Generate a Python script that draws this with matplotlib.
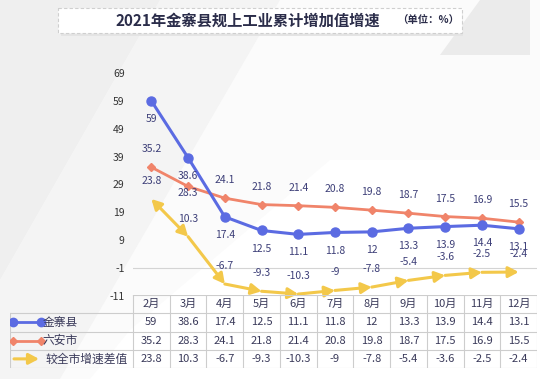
import matplotlib.pyplot as plt
from matplotlib.patches import Polygon, FancyBboxPatch
from matplotlib.lines import Line2D

plt.rcParams['font.family'] = ['Noto Sans CJK SC', 'DejaVu Sans']
plt.rcParams['axes.unicode_minus'] = False

months = ['2月', '3月', '4月', '5月', '6月', '7月', '8月', '9月', '10月', '11月', '12月']
jinzhai = [59, 38.6, 17.4, 12.5, 11.1, 11.8, 12, 13.3, 13.9, 14.4, 13.1]
luan = [35.2, 28.3, 24.1, 21.8, 21.4, 20.8, 19.8, 18.7, 17.5, 16.9, 15.5]
diff = [23.8, 10.3, -6.7, -9.3, -10.3, -9, -7.8, -5.4, -3.6, -2.5, -2.4]
series_names = ['金寨县', '六安市', '较全市增速差值']
yticks = [-11, -1, 9, 19, 29, 39, 49, 59, 69]

BLUE = '#5b6be2'
ORANGE = '#f0846a'
YELLOW = '#f3c84a'
LABEL = '#3d3f78'
GRID = '#d4d4d4'

fig = plt.figure(figsize=(5.4, 3.79), dpi=100)
fig.patch.set_facecolor('#f7f7f7')

# soft background shapes (pixel coords, origin top-left)
bg = fig.add_axes([0, 0, 1, 1], zorder=-10)
bg.set_xlim(0, 540)
bg.set_ylim(379, 0)
bg.axis('off')
bg.add_patch(Polygon([(0, 0), (160, 0), (0, 280)], color='#efefef', lw=0))
bg.add_patch(Polygon([(0, 280), (160, 0), (280, 0), (60, 379), (0, 379)], color='#f4f4f4', lw=0))
bg.add_patch(Polygon([(280, 0), (540, 0), (540, 379), (60, 379)], color='#fbfbfb', lw=0))
bg.add_patch(Polygon([(130, 330), (330, 160), (540, 160), (540, 379), (90, 379)], color='#ffffff', lw=0))
bg.add_patch(Polygon([(480, 0), (530, 0), (530, 55), (440, 55)], color='#ebebeb', lw=0))

# title box
bg.add_patch(FancyBboxPatch((61, 11), 402, 25, boxstyle='square,pad=0', fc='#e4e4e4', ec='none'))
bg.add_patch(FancyBboxPatch((58, 8), 404, 25, boxstyle='square,pad=0', fc='white',
                            ec='#cfcfcf', lw=0.8, ls=(0, (3, 2))))
bg.text(248, 21, '2021年金寨县规上工业累计增加值增速', ha='center', va='center',
        fontsize=11, fontweight='bold', color='#2b2d4a')
bg.text(428, 21, '（单位：%）', ha='center', va='center',
        fontsize=7.5, fontweight='bold', color='#2b2d4a')

# main chart
ax = fig.add_axes([133 / 540, 1 - 296 / 379, 404 / 540, 223 / 379])
ax.set_facecolor('none')
x = list(range(len(months)))
ax.set_xlim(-0.5, len(months) - 0.5)
ax.set_ylim(-11, 69)
ax.set_yticks(yticks)
ax.set_yticklabels([str(t) for t in yticks], fontsize=7.5, color='#333333')
ax.tick_params(axis='y', length=0, pad=6)
ax.set_xticks([])
for s in ax.spines.values():
    s.set_visible(False)
ax.axhline(-1, color=GRID, lw=0.8, zorder=1)

ax.plot(x, luan, color=ORANGE, lw=2, marker='D', ms=4.5, zorder=3)
ax.plot(x, jinzhai, color=BLUE, lw=2.2, marker='o', ms=6.5, zorder=4)

for i in range(1, len(diff)):
    style = '<|-|>' if i == 1 else '-|>'
    ax.annotate('', xy=(x[i], diff[i]), xytext=(x[i - 1], diff[i - 1]),
                arrowprops=dict(arrowstyle=style + ',head_length=0.6,head_width=0.32',
                                color=YELLOW, lw=2.2, shrinkA=0, shrinkB=0),
                zorder=2)

for i in x:
    ax.annotate(str(jinzhai[i]), (x[i], jinzhai[i]), xytext=(0, -13), textcoords='offset points',
                ha='center', va='center', fontsize=7.5, color=LABEL, zorder=6)
    # the 3月 六安市 label sits just under its marker in the reference
    dy = -5 if i == 1 else 13
    ax.annotate(str(luan[i]), (x[i], luan[i]), xytext=(0, dy), textcoords='offset points',
                ha='center', va='center', fontsize=7.5, color=LABEL, zorder=6)
    ax.annotate(str(diff[i]), (x[i], diff[i]), xytext=(0, 13), textcoords='offset points',
                ha='center', va='center', fontsize=7.5, color=LABEL, zorder=6)

# data table
unit = 404 / len(months)
left_x = -0.5 - (133 - 10) / unit
tb = fig.add_axes([10 / 540, 1 - 368 / 379, 527 / 540, 73 / 379])
tb.set_xlim(left_x, len(months) - 0.5)
tb.set_ylim(4, 0)
tb.axis('off')
tb.patch.set_alpha(0)

lc = '#cdcdcd'
tb.plot([-0.5, len(months) - 0.5], [0, 0], color=lc, lw=0.8)
for r in range(1, 5):
    tb.plot([left_x, len(months) - 0.5], [r, r], color=lc, lw=0.8)
tb.plot([left_x, left_x], [1, 4], color=lc, lw=0.8)
for c in range(len(months) + 1):
    tb.plot([c - 0.5, c - 0.5], [0, 4], color=lc, lw=0.8)

for i, m in enumerate(months):
    tb.text(i, 0.5, m, ha='center', va='center', fontsize=8, color='#3a3a5a')
    for r, vals in enumerate([jinzhai, luan, diff], start=1):
        tb.text(i, r + 0.5, str(vals[i]), ha='center', va='center', fontsize=8, color='#3a3a5a')

# row legend glyphs
g0 = left_x + 3 / unit
g1 = left_x + 31 / unit
tb.add_line(Line2D([g0, g1], [1.5, 1.5], color=BLUE, lw=2, marker='o', ms=6))
tb.add_line(Line2D([g0, g1], [2.5, 2.5], color=ORANGE, lw=2, marker='D', ms=4.5))
tb.annotate('', xy=(g1 - 2 / unit, 3.5), xytext=(g0 + 1 / unit, 3.5),
            arrowprops=dict(arrowstyle='-|>,head_length=0.6,head_width=0.32',
                            color=YELLOW, lw=2.2, shrinkA=0, shrinkB=0))
for r, name in enumerate(series_names, start=1):
    tx = left_x + (33 if r < 3 else 35) / unit
    tb.text(tx, r + 0.5, name, ha='left', va='center', fontsize=8.5, color='#3a3a5a')

fig.savefig('out.png', dpi=100, facecolor=fig.get_facecolor())
